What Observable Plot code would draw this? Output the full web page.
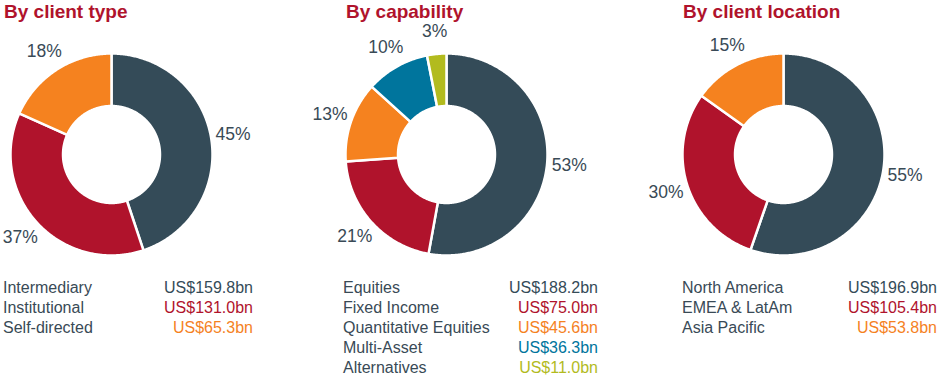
<!DOCTYPE html>
<html>
<head>
<meta charset="utf-8">
<script src="https://cdn.jsdelivr.net/npm/d3@7"></script>
<script src="https://cdn.jsdelivr.net/npm/@observablehq/plot@0.6"></script>
<style>
  html, body { margin: 0; padding: 0; background: #fff; }
  #root { position: relative; width: 940px; height: 376px; overflow: hidden; font-family: "Liberation Sans", Arial, sans-serif; }
  .title { position: absolute; top: 1px; font-size: 19px; line-height: 22px; font-weight: bold; color: #b0132c; white-space: nowrap; }
  .plot { position: absolute; top: 20px; width: 320px; height: 250px; }
  .legend { position: absolute; top: 278px; font-size: 16px; line-height: 20px; color: #394a56; white-space: nowrap; }
  .row { position: relative; height: 20px; }
  .row .v { position: absolute; right: 0; top: 0; }
</style>
</head>
<body>
<div id="root"></div>
<script>
// ---- data ----
const titles = ["By client type", "By capability", "By client location"];

const clientTypeLabels = ["Intermediary", "Institutional", "Self-directed"];
const clientTypeValues = [159.8, 131.0, 65.3];

const capabilityLabels = ["Equities", "Fixed Income", "Quantitative Equities", "Multi-Asset", "Alternatives"];
const capabilityValues = [188.2, 75.0, 45.6, 36.3, 11.0];

const locationLabels = ["North America", "EMEA & LatAm", "Asia Pacific"];
const locationValues = [196.9, 105.4, 53.8];

const palette = ["#344b58", "#b0132c", "#f5821f", "#00759d", "#b2bb1e"];

// ---- layout ----
const panels = [
  {title: titles[0], labels: clientTypeLabels, values: clientTypeValues, left: 0, titleX: 4, legendX: 3, legendRight: 253, cx: 111},
  {title: titles[1], labels: capabilityLabels, values: capabilityValues, left: 320, titleX: 346, legendX: 343, legendRight: 598, cx: 126},
  {title: titles[2], labels: locationLabels, values: locationValues, left: 620, titleX: 683, legendX: 682, legendRight: 937, cx: 163}
];
const R = 101, innerFrac = 0.48, labelFrac = 1.22, cy = 134;
const fmtPct = d3.format(".0%");
const fmtVal = v => "US$" + v.toFixed(1) + "bn";

const root = document.getElementById("root");

panels.forEach(p => {
  const t = document.createElement("div");
  t.className = "title";
  t.style.left = p.titleX + "px";
  t.textContent = p.title;
  root.appendChild(t);

  const total = d3.sum(p.values);
  const arcs = d3.pie().sort(null).value(d => d)(p.values);
  const pts = [];
  const lbls = [];
  arcs.forEach((a, i) => {
    const n = Math.max(4, Math.ceil((a.endAngle - a.startAngle) / 0.01));
    const ring = [];
    for (let k = 0; k <= n; k++) {
      const ang = a.startAngle + (a.endAngle - a.startAngle) * k / n;
      ring.push({k: i, x: Math.sin(ang), y: Math.cos(ang), c: palette[i]});
    }
    for (let k = n; k >= 0; k--) {
      const ang = a.startAngle + (a.endAngle - a.startAngle) * k / n;
      ring.push({k: i, x: innerFrac * Math.sin(ang), y: innerFrac * Math.cos(ang), c: palette[i]});
    }
    ring.push(ring[0]);
    pts.push(...ring);
    const mid = (a.startAngle + a.endAngle) / 2;
    lbls.push({x: labelFrac * Math.sin(mid), y: labelFrac * Math.cos(mid), t: fmtPct(a.value / total)});
  });

  const chart = Plot.plot({
    width: 320,
    height: 250,
    margin: 0,
    style: {background: "transparent", overflow: "visible", fontFamily: "Liberation Sans, Arial, sans-serif"},
    x: {domain: [-1, 1], range: [p.cx - R, p.cx + R], axis: null},
    y: {domain: [-1, 1], range: [cy + R, cy - R], axis: null},
    color: {type: "identity"},
    marks: [
      Plot.line(pts, {x: "x", y: "y", z: "k", fill: "c", stroke: "white", strokeWidth: 2.5, strokeLinejoin: "round", curve: "linear"}),
      Plot.text(lbls, {x: "x", y: "y", text: "t", fontSize: 17.5, fill: "#394a56"})
    ]
  });
  const wrap = document.createElement("div");
  wrap.className = "plot";
  wrap.style.left = p.left + "px";
  wrap.appendChild(chart);
  root.appendChild(wrap);

  const lg = document.createElement("div");
  lg.className = "legend";
  lg.style.left = p.legendX + "px";
  lg.style.width = (p.legendRight - p.legendX) + "px";
  p.labels.forEach((l, i) => {
    const row = document.createElement("div");
    row.className = "row";
    const a = document.createElement("span");
    a.textContent = l;
    const b = document.createElement("span");
    b.className = "v";
    b.style.color = palette[i];
    b.textContent = fmtVal(p.values[i]);
    row.appendChild(a);
    row.appendChild(b);
    lg.appendChild(row);
  });
  root.appendChild(lg);
});
</script>
</body>
</html>
